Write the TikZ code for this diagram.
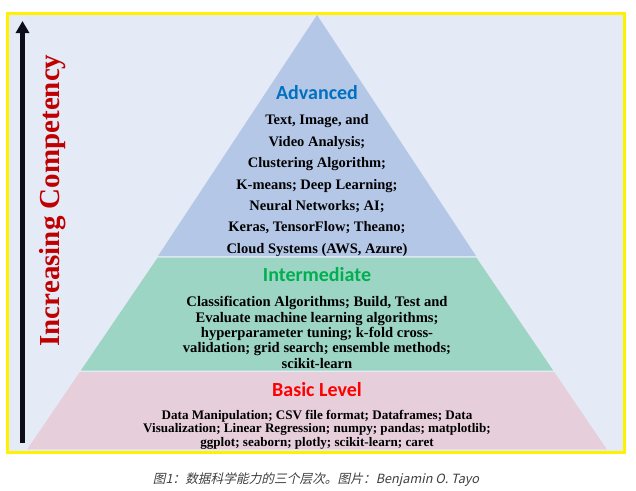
\documentclass[tikz,border=0pt]{standalone}
\usepackage{fontspec}
\setmainfont{Liberation Serif}
\newfontfamily\calibri{Carlito}
\newfontfamily\cjk[AutoFakeSlant=0.22]{Noto Sans CJK SC}
\usetikzlibrary{arrows.meta}
\definecolor{bgblue}{RGB}{228,234,246}
\definecolor{tierblue}{RGB}{180,199,231}
\definecolor{tiergreen}{RGB}{157,213,197}
\definecolor{tierpink}{RGB}{230,206,218}
\definecolor{advblue}{RGB}{0,112,192}
\definecolor{intgreen}{RGB}{0,176,80}
\definecolor{basred}{RGB}{255,0,0}
\definecolor{darkred}{RGB}{192,0,0}
\definecolor{arrowink}{RGB}{13,13,26}
\definecolor{captiongray}{RGB}{64,64,64}
\tikzset{
  heading/.style={anchor=base, inner sep=0pt, font=\calibri\bfseries\fontsize{20}{24}\selectfont},
  bodytext/.style={anchor=base, inner sep=0pt, align=center, text=black},
}
\begin{document}
\begin{tikzpicture}[x=1pt,y=-1pt]
\useasboundingbox[fill=white] (0,0) rectangle (636,490);
\fill[bgblue] (9,15) rectangle (623,450.5);
\draw[yellow, line width=3pt] (7.5,13.5) rectangle (624.5,452);
% pyramid tiers
\fill[tierblue] (317,15) -- (476,256) -- (158,256) -- cycle;
\fill[tiergreen] (157.7,257.5) -- (476.3,257.5) -- (553.3,370.7) -- (80.7,370.7) -- cycle;
\fill[tierpink] (79.8,372) -- (554.2,372) -- (606.8,449.3) -- (27.2,449.3) -- cycle;
% arrow
\coordinate (arrowbot) at (22.5,443);
\coordinate (arrowtop) at (22.5,21);
\draw[arrowink, line width=4.5pt, -{Triangle[width=13pt,length=12pt]}] (arrowbot) -- (arrowtop);
\node[rotate=90, anchor=base, inner sep=0pt, text=darkred, font=\bfseries\fontsize{29}{34}\selectfont] (competency) at (59.3,200.5) {Increasing Competency};
% headings
\node[heading, text=advblue] (advanced) at (317,99.3) {Advanced};
\node[heading, text=intgreen] (intermediate) at (317,281.6) {Intermediate};
\node[heading, text=basred] (basic) at (317,396) {Basic Level};
% bodies (base anchor = baseline of the last line)
\node[bodytext, font=\bfseries\fontsize{14.5}{21.4}\selectfont] (advbody) at (317,253.3) {Text, Image, and\\Video Analysis;\\Clustering Algorithm;\\K-means; Deep Learning;\\Neural Networks; AI;\\Keras, TensorFlow; Theano;\\Cloud Systems (AWS, Azure)};
\node[bodytext, font=\bfseries\fontsize{14.6}{15.4}\selectfont] (intbody) at (317,368.3) {Classification Algorithms; Build, Test and\\Evaluate machine learning algorithms;\\hyperparameter tuning; k-fold cross-\\validation; grid search; ensemble methods;\\scikit-learn};
\node[bodytext, font=\bfseries\fontsize{13.1}{13.5}\selectfont] (basbody) at (317,446.2) {Data Manipulation; CSV file format; Dataframes; Data\\Visualization; Linear Regression; numpy; pandas; matplotlib;\\ggplot; seaborn; plotly; scikit-learn; caret};
% caption
\node[anchor=base, inner sep=0pt, text=captiongray, font=\cjk\itshape\fontsize{12.7}{15}\selectfont] (caption) at (316,483) {图1：数据科学能力的三个层次。图片：Benjamin O. Tayo};
\end{tikzpicture}
\end{document}
